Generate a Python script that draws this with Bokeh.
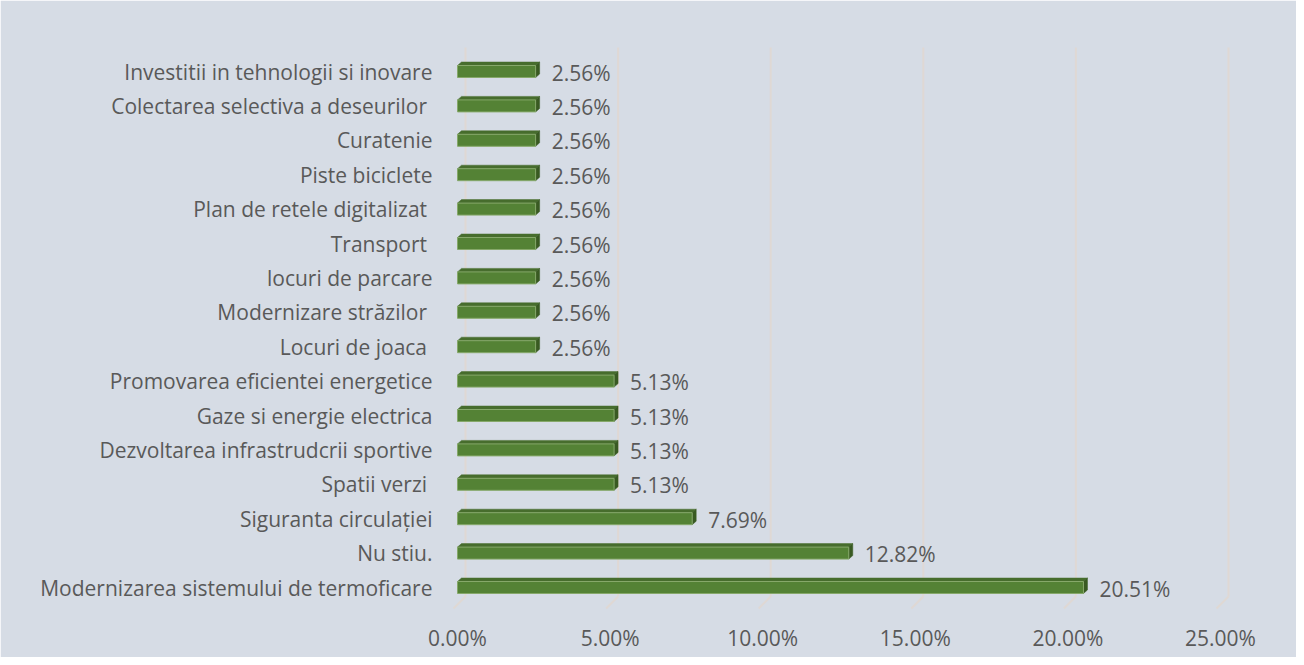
from bokeh.plotting import figure
from bokeh.models import Range1d, FixedTicker, ColumnDataSource
from bokeh.core.properties import value
from bokeh.embed import file_html
from bokeh.resources import INLINE

# ---- data (top to bottom as shown) ----
categories = [
    "Investitii in tehnologii si inovare",
    "Colectarea selectiva a deseurilor ",
    "Curatenie",
    "Piste biciclete",
    "Plan de retele digitalizat ",
    "Transport ",
    "locuri de parcare",
    "Modernizare străzilor ",
    "Locuri de joaca ",
    "Promovarea eficientei energetice",
    "Gaze si energie electrica",
    "Dezvoltarea infrastrudcrii sportive",
    "Spatii verzi ",
    "Siguranta circulației",
    "Nu stiu.",
    "Modernizarea sistemului de termoficare",
]
values = [2.56, 2.56, 2.56, 2.56, 2.56, 2.56, 2.56, 2.56, 2.56,
          5.13, 5.13, 5.13, 5.13, 7.69, 12.82, 20.51]
x_ticks = [0, 5, 10, 15, 20, 25]
x_tick_labels = ["0.00%", "5.00%", "10.00%", "15.00%", "20.00%", "25.00%"]

# ---- layout constants ----
FONT = "Open Sans"
FS = "21px"
TXT = "#595959"
BG = "#d6dce5"
PX_X = 30.52   # px per percent
PX_Y = 34.4    # px per category
W, H = 1296, 657
LB, TB, BB = 440, 40, 37
frame_w = W - LB
frame_h = H - TB - BB
X0PX = 457     # canvas x of value 0 (front face)
YBOT = 587     # canvas y of bottom category centre

n = len(categories)
ys = [n - 1 - i for i in range(n)]

x0 = (LB - X0PX) / PX_X
x1 = x0 + frame_w / PX_X
y1 = (YBOT - TB) / PX_Y
y0 = y1 - frame_h / PX_Y

p = figure(width=W, height=H, x_range=Range1d(x0, x1), y_range=Range1d(y0, y1),
           output_backend="svg", toolbar_location=None,
           min_border_left=LB, min_border_right=0, min_border_top=TB, min_border_bottom=BB)
p.background_fill_color = BG
p.border_fill_color = BG
p.outline_line_color = BG
p.outline_line_width = 2
p.grid.visible = False

# ---- back-wall gridlines with floor perspective ----
gdx = 8 / PX_X
fdx = -4 / PX_X
gy_top = (YBOT - 47) / PX_Y
gy_bot = (YBOT - 596) / PX_Y
fy = (YBOT - 608) / PX_Y
GRID = "#dfd8d4"
p.segment(x0=[t + gdx for t in x_ticks], y0=[gy_top] * len(x_ticks),
          x1=[t + gdx for t in x_ticks], y1=[gy_bot] * len(x_ticks),
          line_color=GRID, line_width=2)
p.segment(x0=[t + gdx for t in x_ticks], y0=[gy_bot] * len(x_ticks),
          x1=[t + fdx for t in x_ticks], y1=[fy] * len(x_ticks),
          line_color=GRID, line_width=2)

# ---- 3D bars ----
hh = 6 / PX_Y
dx = 4 / PX_X
dy = 3.5 / PX_Y
top_xs = [[0, v, v + dx, dx] for v in values]
top_ys = [[y + hh, y + hh, y + hh + dy, y + hh + dy] for y in ys]
side_xs = [[v, v + dx, v + dx, v] for v in values]
side_ys = [[y - hh, y - hh + dy, y + hh + dy, y + hh] for y in ys]
p.patches(top_xs, top_ys, fill_color="#476d2d", line_color="#476d2d", line_width=0.5)
p.patches(side_xs, side_ys, fill_color="#395a22", line_color="#395a22", line_width=0.5)
p.hbar(y=ys, left=0, right=values, height=2 * hh, fill_color="#548235",
       line_color="#86a86a", line_width=1)

# ---- data labels ----
src = ColumnDataSource(dict(x=values, y=ys, t=["%.2f%%" % v for v in values]))
p.text(x="x", y="y", text="t", source=src, x_offset=16, y_offset=1, text_baseline="middle",
       text_align="left", text_font=value(FONT), text_font_size=FS, text_color=TXT)

# ---- axes ----
xa = p.xaxis[0]
xa.ticker = FixedTicker(ticks=x_ticks)
xa.major_label_overrides = {t: l for t, l in zip(x_ticks, x_tick_labels)}
xa.axis_line_color = None
xa.major_tick_line_color = None
xa.minor_tick_line_color = None
xa.major_tick_in = 0
xa.major_tick_out = 0
xa.major_label_standoff = 3
xa.major_label_text_font = FONT
xa.major_label_text_font_size = FS
xa.major_label_text_color = TXT

ya = p.yaxis[0]
ya.ticker = FixedTicker(ticks=ys)
ya.major_label_overrides = {y: c for y, c in zip(ys, categories)}
ya.axis_line_color = None
ya.major_tick_line_color = None
ya.minor_tick_line_color = None
ya.major_tick_in = 0
ya.major_tick_out = 0
ya.major_label_standoff = 8
ya.major_label_text_font = FONT
ya.major_label_text_font_size = FS
ya.major_label_text_color = TXT

open("out.html", "w").write(file_html(p, INLINE))
